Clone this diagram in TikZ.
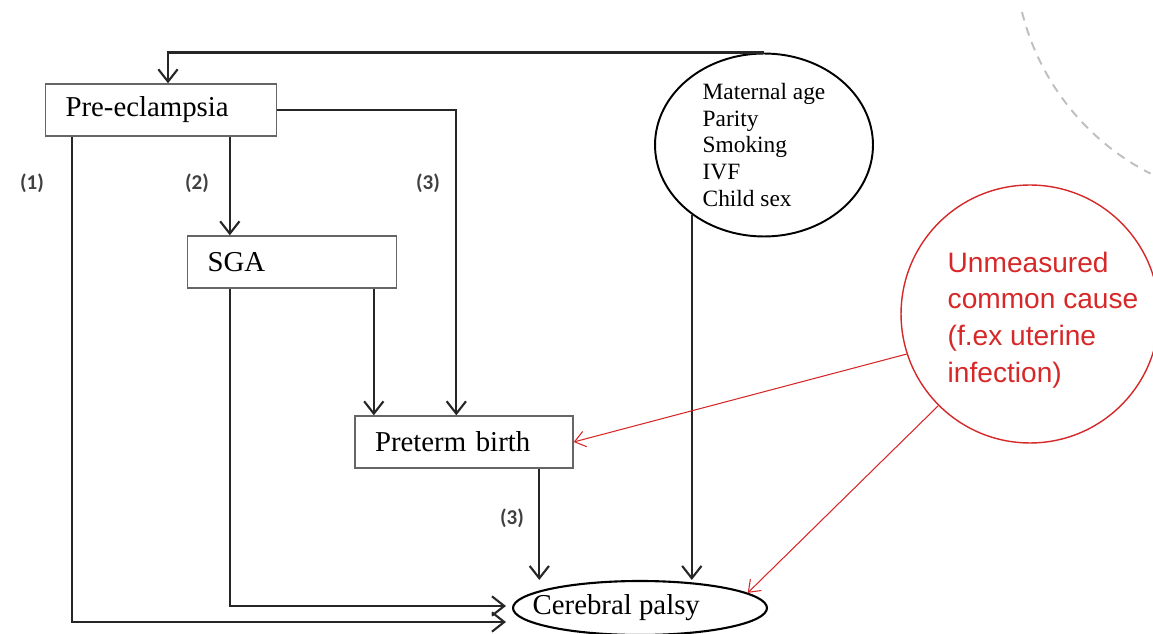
\documentclass[tikz,border=0pt]{standalone}
\usepackage{fontspec}
\setmainfont{Liberation Serif}
\newfontfamily\causefont{Liberation Sans}
\newfontfamily\pathfont{Carlito}
\usetikzlibrary{arrows.meta, calc, shapes.geometric}
\definecolor{causered}{RGB}{214,40,40}

\begin{document}
\begin{tikzpicture}[
        x=0.02cm, y=-0.02cm,
        box/.style={rectangle, draw=black!60, line width=0.8pt, minimum height=1.04cm, inner xsep=0.4cm, inner ysep=0pt, align=left, font=\fontsize{16.4}{18}\selectfont},
        arrow/.style={-{Straight Barb[length=7pt, width=11pt]}, line width=1.2pt, draw=black!85},
        redarrow/.style={-{Straight Barb[length=6pt, width=9pt]}, line width=0.6pt, draw=causered},
        label/.style={font=\pathfont\bfseries\fontsize{12}{14}\selectfont, text=black!75}
    ]
    \useasboundingbox (0,0) rectangle (1153,634);

    % decoration, top right
    \draw[black!25, line width=1.1pt, dash pattern=on 5pt off 4pt] (1022,12) arc[start angle=166, end angle=117, radius=249];

    % Boxes
    \node[box, text width=3.82cm] (pre) at (161,110) {Pre-eclampsia};
    \node[box, text width=3.38cm] (sga) at (292,262) {SGA};
    \node[box, text width=3.56cm] (pt) at (464,442) {Preterm birth};

    % Covariates
    \node[ellipse, draw, line width=1.1pt, minimum width=4.36cm, minimum height=3.66cm, inner sep=0pt, align=left, font=\fontsize{13.3}{15.1}\selectfont] (cov) at (764,145) {Maternal age\\Parity\\Smoking\\IVF\\Child sex};

    % Outcome
    \node[ellipse, draw, line width=1.2pt, minimum width=5.08cm, minimum height=1.08cm, inner sep=0pt, font=\fontsize{16.4}{18}\selectfont] (cp) at (640,608) {\hspace*{-0.95cm}Cerebral palsy};

    % Unmeasured cause
    \node[circle, draw=causered, line width=0.8pt, minimum size=5.16cm, inner sep=0pt] (uc) at (1030,314) {};
    \node[align=left, text=causered, font=\causefont\fontsize{16}{20.9}\selectfont] (uctext) at (1043,320) {Unmeasured\\common cause\\(f.ex uterine\\infection)};

    % helper points
    \coordinate (p1) at ($(pre.south west)+(27,0)$);
    \coordinate (p2) at ($(pre.south west)+(185,0)$);
    \coordinate (p3) at ($(pt.north west)+(102,0)$);
    \coordinate (s1) at ($(sga.south west)+(187,0)$);
    \coordinate (s2) at ($(sga.south west)+(43,0)$);
    \coordinate (t1) at ($(pt.south west)+(185,0)$);
    \coordinate (c1) at (cov.-136);

    % Paths
    \draw[arrow] (cov.north) -| ($(pre.north)+(7,0)$);
    \draw[arrow] (p1) |- ($(cp.west)+(-6,14)$);
    \draw[arrow] (p2) -- (p2 |- sga.north);
    \draw[arrow] (pre.east) -| (p3);
    \draw[arrow] (s1) -- (s1 |- pt.north);
    \draw[arrow] (s2) |- ($(cp.west)+(-6,-2)$);
    \draw[arrow] (t1) -- (t1 |- cp.north);
    \draw[arrow] (c1) -- (c1 |- cp.north);

    \draw[redarrow] (uc.198) -- (pt.east);
    \draw[redarrow] (uc.225) -- (cp.8);

    % Labels
    \node[label] (l1) at (32,183) {(1)};
    \node[label] (l2) at (197,183) {(2)};
    \node[label] (l3) at (428,183) {(3)};
    \node[label] (l4) at (512,518) {(3)};

    \end{tikzpicture}
\end{document}
